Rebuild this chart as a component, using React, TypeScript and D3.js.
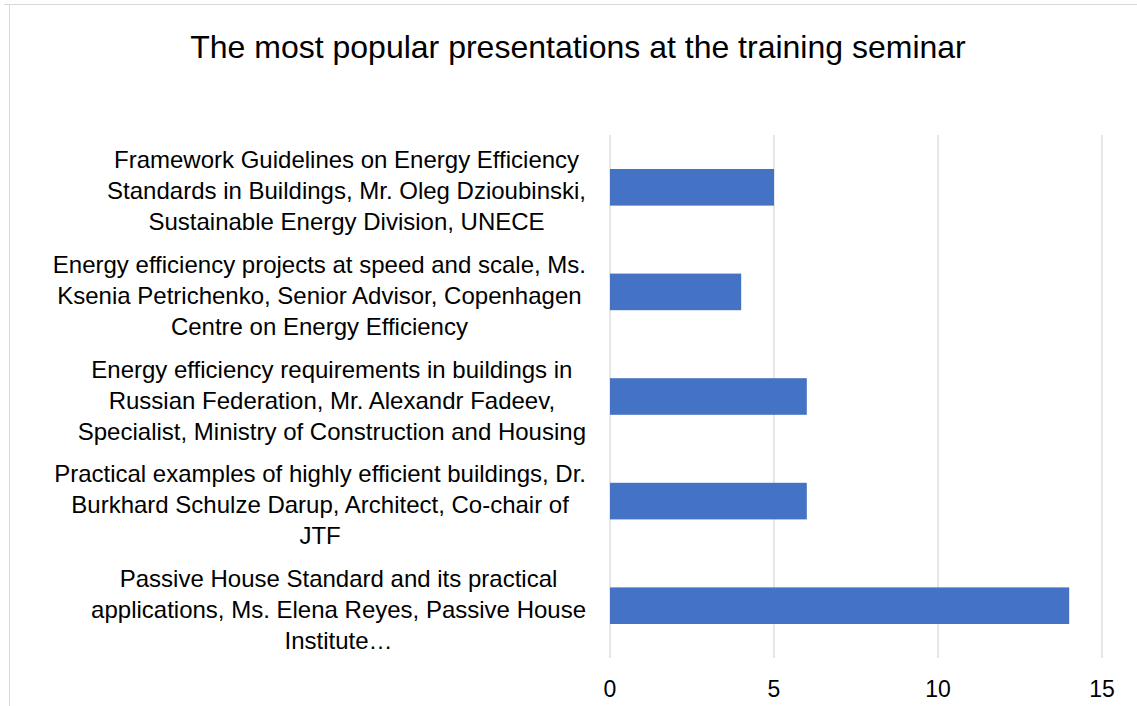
import React from "react";
import * as d3 from "d3";

// chart data
const categories = [
  ["Framework Guidelines on Energy Efficiency", "Standards in Buildings, Mr. Oleg Dzioubinski,", "Sustainable Energy Division, UNECE"],
  ["Energy efficiency projects at speed and scale, Ms.", "Ksenia Petrichenko, Senior Advisor, Copenhagen", "Centre on Energy Efficiency"],
  ["Energy efficiency requirements in buildings in", "Russian Federation, Mr. Alexandr Fadeev,", "Specialist, Ministry of Construction and Housing"],
  ["Practical examples of highly efficient buildings, Dr.", "Burkhard Schulze Darup, Architect, Co-chair of", "JTF"],
  ["Passive House Standard and its practical", "applications, Ms. Elena Reyes, Passive House", "Institute…"],
];
const values = [5, 4, 6, 6, 14];
const xTicks = [0, 5, 10, 15];
const title = "The most popular presentations at the training seminar";

const W = 1137;
const H = 706;
const FONT = "'Liberation Sans', Arial, sans-serif";

let ctx: CanvasRenderingContext2D | null = null;
function textWidth(s: string, size: number) {
  if (!ctx) ctx = document.createElement("canvas").getContext("2d");
  if (!ctx) return s.length * size * 0.5;
  ctx.font = `${size}px ${FONT}`;
  return ctx.measureText(s).width;
}

export default function App() {
  const margin = { top: 135, left: 610, right: 35, bottom: 48 };

  const x = d3.scaleLinear().domain([0, 15]).range([margin.left, W - margin.right]);
  const y = d3
    .scaleBand<number>()
    .domain(d3.range(values.length))
    .range([margin.top, H - margin.bottom])
    .paddingInner(0.65)
    .paddingOuter(0.325);

  const labelRight = 586;
  const lineH = 31;
  const fs = 24;

  return (
    <svg
      width={W}
      height={H}
      style={{ position: "absolute", left: 0, top: 0, background: "#fff" }}
      fontFamily={FONT}
    >
      {/* chart frame */}
      <line x1={4} x2={W} y1={4.5} y2={4.5} stroke="#d9d9d9" />
      <line x1={9.5} x2={9.5} y1={4} y2={H} stroke="#d9d9d9" />

      <text x={578} y={58} fontSize={32} textAnchor="middle" fill="#000">
        {title}
      </text>

      {/* gridlines */}
      {xTicks.map((t) => (
        <line key={t} x1={x(t)} x2={x(t)} y1={margin.top} y2={H - margin.bottom} stroke="#d9d9d9" strokeWidth={1.3} />
      ))}

      {/* bars */}
      {values.map((v, i) => (
        <rect key={i} x={x(0)} y={y(i)} width={x(v) - x(0)} height={y.bandwidth()} fill="#4472c4" />
      ))}

      {/* x tick labels */}
      {xTicks.map((t) => (
        <text key={t} x={x(t)} y={697} fontSize={23} textAnchor="middle" fill="#000">
          {t}
        </text>
      ))}

      {/* category labels */}
      {categories.map((lines, i) => {
        const maxW = d3.max(lines, (l) => textWidth(l, fs)) || 0;
        const cx = labelRight - maxW / 2;
        const cy = (y(i) || 0) + y.bandwidth() / 2;
        const y0 = cy - ((lines.length - 1) * lineH) / 2 + 12;
        return (
          <text key={i} fontSize={fs} textAnchor="middle" fill="#000">
            {lines.map((l, j) => (
              <tspan key={j} x={cx} y={y0 + j * lineH}>
                {l}
              </tspan>
            ))}
          </text>
        );
      })}
    </svg>
  );
}
